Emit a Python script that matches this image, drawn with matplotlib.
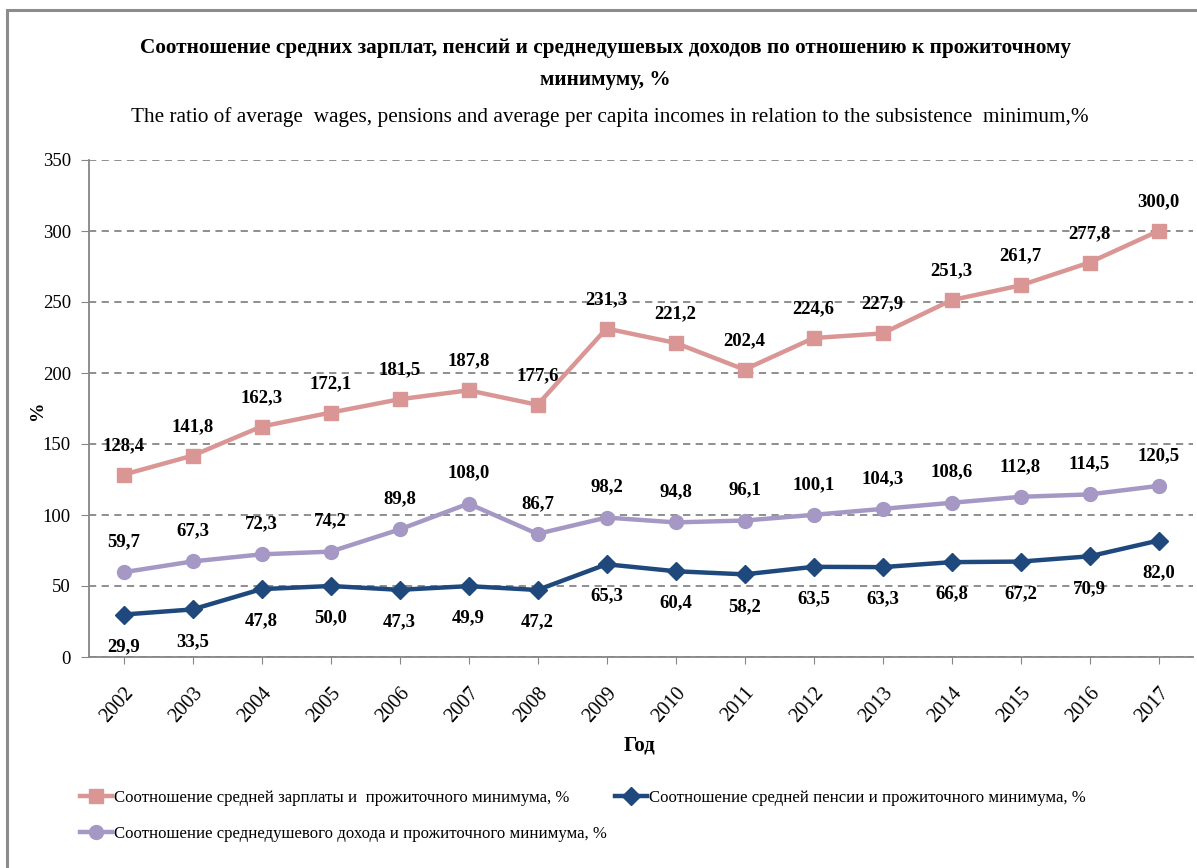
import matplotlib
matplotlib.use("Agg")
import matplotlib.pyplot as plt
from matplotlib.lines import Line2D
from matplotlib.patches import Rectangle

plt.rcParams["font.family"] = ["Liberation Serif", "DejaVu Serif"]

years = ["2002", "2003", "2004", "2005", "2006", "2007", "2008", "2009",
         "2010", "2011", "2012", "2013", "2014", "2015", "2016", "2017"]
wages = [128.4, 141.8, 162.3, 172.1, 181.5, 187.8, 177.6, 231.3,
         221.2, 202.4, 224.6, 227.9, 251.3, 261.7, 277.8, 300.0]
pensions = [29.9, 33.5, 47.8, 50.0, 47.3, 49.9, 47.2, 65.3,
            60.4, 58.2, 63.5, 63.3, 66.8, 67.2, 70.9, 82.0]
incomes = [59.7, 67.3, 72.3, 74.2, 89.8, 108.0, 86.7, 98.2,
           94.8, 96.1, 100.1, 104.3, 108.6, 112.8, 114.5, 120.5]
y_ticks = [0, 50, 100, 150, 200, 250, 300, 350]

name_wages = "Соотношение средней зарплаты и  прожиточного минимума, %"
name_pens = "Соотношение средней пенсии и прожиточного минимума, %"
name_inc = "Соотношение среднедушевого дохода и прожиточного минимума, %"

c_wages = "#D99694"
c_pens = "#1F497D"
c_inc = "#A598C5"
grey = "#868686"

W, H = 1197, 868
fig = plt.figure(figsize=(W / 100, H / 100), dpi=100)

# outer frame
fig.patches.append(Rectangle((7 / W, -0.05), 1.2, 1 - 10 / H + 0.05,
                             transform=fig.transFigure, fill=False,
                             edgecolor="#8c8c8c", linewidth=2.2))

ax = fig.add_axes([89 / W, 1 - 657 / H, (1193 - 89) / W, (657 - 160) / H])
x = list(range(len(years)))

ax.plot(x, wages, color=c_wages, lw=3.2, marker="s", ms=10, zorder=3)
ax.plot(x, incomes, color=c_inc, lw=3.2, marker="o", ms=10, zorder=3)
ax.plot(x, pensions, color=c_pens, lw=3.2, marker="D", ms=9, zorder=4)


def fmt(v):
    return f"{v:.1f}".replace(".", ",")


lab_fs = 13.5
for xi, v in zip(x, wages):
    ax.annotate(fmt(v), (xi, v), xytext=(0, 21), textcoords="offset points",
                ha="center", va="center", fontsize=lab_fs, fontweight="bold")
for xi, v in zip(x, incomes):
    ax.annotate(fmt(v), (xi, v), xytext=(0, 22), textcoords="offset points",
                ha="center", va="center", fontsize=lab_fs, fontweight="bold")
for xi, v in zip(x, pensions):
    ax.annotate(fmt(v), (xi, v), xytext=(0, -23), textcoords="offset points",
                ha="center", va="center", fontsize=lab_fs, fontweight="bold")

ax.set_xlim(-0.5, len(years) - 0.5)
ax.set_ylim(0, 350)
ax.set_yticks(y_ticks)
ax.set_yticklabels([str(t) for t in y_ticks], fontsize=13.5)
ax.set_xticks(x)
ax.set_xticklabels(years, fontsize=14.5, rotation=48, ha="right",
                   rotation_mode="anchor")
ax.tick_params(axis="x", length=5, color=grey, pad=14)
ax.tick_params(axis="y", length=6, color=grey, pad=7)
ax.yaxis.grid(True, linestyle=(0, (4, 3)), color=grey, linewidth=1.3)
ax.set_axisbelow(True)
for s in ["top", "right"]:
    ax.spines[s].set_visible(False)
for s in ["left", "bottom"]:
    ax.spines[s].set_color(grey)
    ax.spines[s].set_linewidth(1.3)

fig.text(38 / W, 1 - 410 / H, "%", rotation=90, ha="center", va="center",
         fontsize=14, fontweight="bold")
fig.text(640 / W, 1 - 745 / H, "Год", ha="center", va="center",
         fontsize=15, fontweight="bold")

fig.text(605 / W, 1 - 48 / H,
         "Соотношение средних зарплат, пенсий и среднедушевых доходов по отношению к прожиточному",
         ha="center", va="center", fontsize=15.3, fontweight="bold")
fig.text(605 / W, 1 - 80 / H, "минимуму, %", ha="center", va="center",
         fontsize=15.3, fontweight="bold")
fig.text(610 / W, 1 - 117 / H,
         "The ratio of average  wages, pensions and average per capita incomes in relation to the subsistence  minimum,%",
         ha="center", va="center", fontsize=15.3)

handles = [
    Line2D([], [], color=c_wages, lw=3.2, marker="s", ms=10),
    Line2D([], [], color=c_inc, lw=3.2, marker="o", ms=10),
    Line2D([], [], color=c_pens, lw=3.2, marker="D", ms=9),
]
labels = [name_wages, name_inc, name_pens]
fig.legend(handles, labels, loc="upper left",
           bbox_to_anchor=(80 / W, 1 - 790 / H), ncol=2, frameon=False,
           fontsize=12.1, handlelength=1.9, handletextpad=0.15,
           columnspacing=0.45, labelspacing=1.2, borderpad=0,
           borderaxespad=0)

fig.savefig("out.png", dpi=100)
